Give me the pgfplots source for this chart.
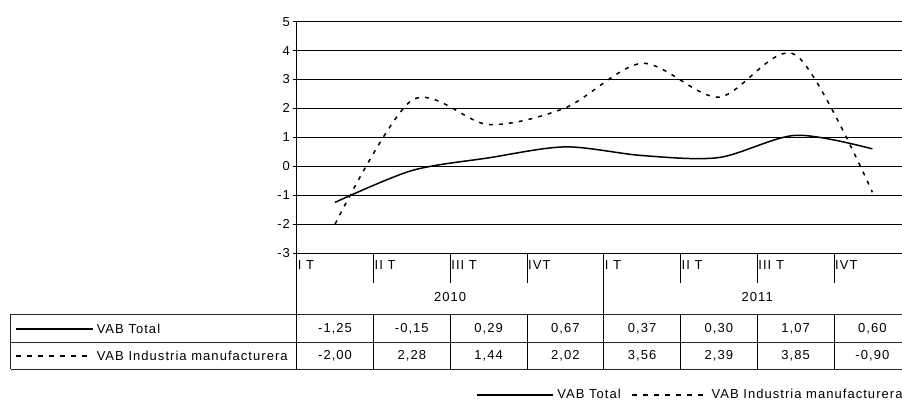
\documentclass[border=0pt]{standalone}
\usepackage{pgfplots}
\pgfplotsset{compat=1.18}
\usepackage{fontspec}
\setmainfont{Liberation Sans}[LetterSpace=8]
\begin{document}
\fontsize{13}{15}\selectfont
\begin{tikzpicture}
\begin{axis}[
  scale only axis,
  width=614.1pt, height=231.3pt,
  xmin=-0.5, xmax=7.5, ymin=-3, ymax=5,
  clip=false,
  axis lines=left,
  axis line style={-, black, line width=0.9pt},
  xtick=\empty,
  ytick={-3,-2,-1,0,1,2,3,4,5},
  yticklabels={-3,-2,-1,0,1,2,3,4,5},
  ymajorgrids,
  grid style={black, line width=0.9pt},
  tick align=outside,
  major tick length=4pt,
  ytick style={black, line width=0.9pt},
  yticklabel style={font=\fontsize{13}{15}\selectfont, inner sep=2.5pt},
]
% series
\addplot[black, line width=1.5pt, smooth] coordinates {
 (0,-1.25) (1,-0.15) (2,0.29) (3,0.67) (4,0.37) (5,0.30) (6,1.07) (7,0.60)};
\addplot[black, line width=1.5pt, smooth, dash pattern=on 4pt off 6pt] coordinates {
 (0,-2.00) (1,2.28) (2,1.44) (3,2.02) (4,3.56) (5,2.39) (6,3.85) (7,-0.90)};

% category area
\draw[black, line width=0.9pt] (-0.5,-3) -- (-0.5,-7.012);
\draw[black, line width=0.9pt] (3.5,-3) -- (3.5,-7.012);
\pgfplotsinvokeforeach{0.5,1.5,2.5,4.5,5.5,6.5}{
  \draw[black, line width=0.9pt] (#1,-3) -- (#1,-4.038);
}
\node[anchor=west, inner sep=1pt] at (-0.5,-3.415) {I T};
\node[anchor=west, inner sep=1pt] at (0.5,-3.415) {II T};
\node[anchor=west, inner sep=1pt] at (1.5,-3.415) {III T};
\node[anchor=west, inner sep=1pt] at (2.5,-3.415) {IVT};
\node[anchor=west, inner sep=1pt] at (3.5,-3.415) {I T};
\node[anchor=west, inner sep=1pt] at (4.5,-3.415) {II T};
\node[anchor=west, inner sep=1pt] at (5.5,-3.415) {III T};
\node[anchor=west, inner sep=1pt] at (6.5,-3.415) {IVT};
\node at (1.5,-4.522) {2010};
\node at (5.5,-4.522) {2011};

% data table
\draw[black!85, line width=0.9pt] (-4.226,-5.110) -- (7.6,-5.110);
\draw[black!85, line width=0.9pt] (-4.226,-6.078) -- (7.6,-6.078);
\draw[black!85, line width=0.9pt] (-4.226,-7.012) -- (7.6,-7.012);
\draw[black!85, line width=0.9pt] (-4.226,-5.110) -- (-4.226,-7.012);
\pgfplotsinvokeforeach{0.5,1.5,2.5,4.5,5.5,6.5,7.5}{
  \draw[black, line width=0.9pt] (#1,-5.110) -- (#1,-7.012);
}
\draw[black, line width=1.5pt] (-4.157,-5.629) -- (-3.158,-5.629);
\node[anchor=west, inner sep=1pt] at (-3.12,-5.629) {VAB Total};
\draw[black, line width=1.5pt, dash pattern=on 5pt off 6pt] (-4.157,-6.563) -- (-3.158,-6.563);
\node[anchor=west, inner sep=1pt] at (-3.12,-6.563) {VAB Industria manufacturera};

\node at (0,-5.629) {-1,25};
\node at (1,-5.629) {-0,15};
\node at (2,-5.629) {0,29};
\node at (3,-5.629) {0,67};
\node at (4,-5.629) {0,37};
\node at (5,-5.629) {0,30};
\node at (6,-5.629) {1,07};
\node at (7,-5.629) {0,60};
\node at (0,-6.563) {-2,00};
\node at (1,-6.563) {2,28};
\node at (2,-6.563) {1,44};
\node at (3,-6.563) {2,02};
\node at (4,-6.563) {3,56};
\node at (5,-6.563) {2,39};
\node at (6,-6.563) {3,85};
\node at (7,-6.563) {-0,90};

% legend
\draw[black, line width=1.5pt] (1.849,-7.92) -- (2.84,-7.92);
\node[anchor=west, inner sep=1pt] at (2.88,-7.88) {VAB Total};
\draw[black, line width=1.5pt, dash pattern=on 5pt off 6pt] (3.87,-7.92) -- (4.86,-7.92);
\node[anchor=west, inner sep=1pt] at (4.89,-7.88) {VAB Industria manufacturera};

\coordinate (BL) at (-4.365,-8.188);
\coordinate (TR) at (7.386,5.75);
\end{axis}
\pgfresetboundingbox
\useasboundingbox (BL) rectangle (TR);
\end{tikzpicture}
\end{document}
